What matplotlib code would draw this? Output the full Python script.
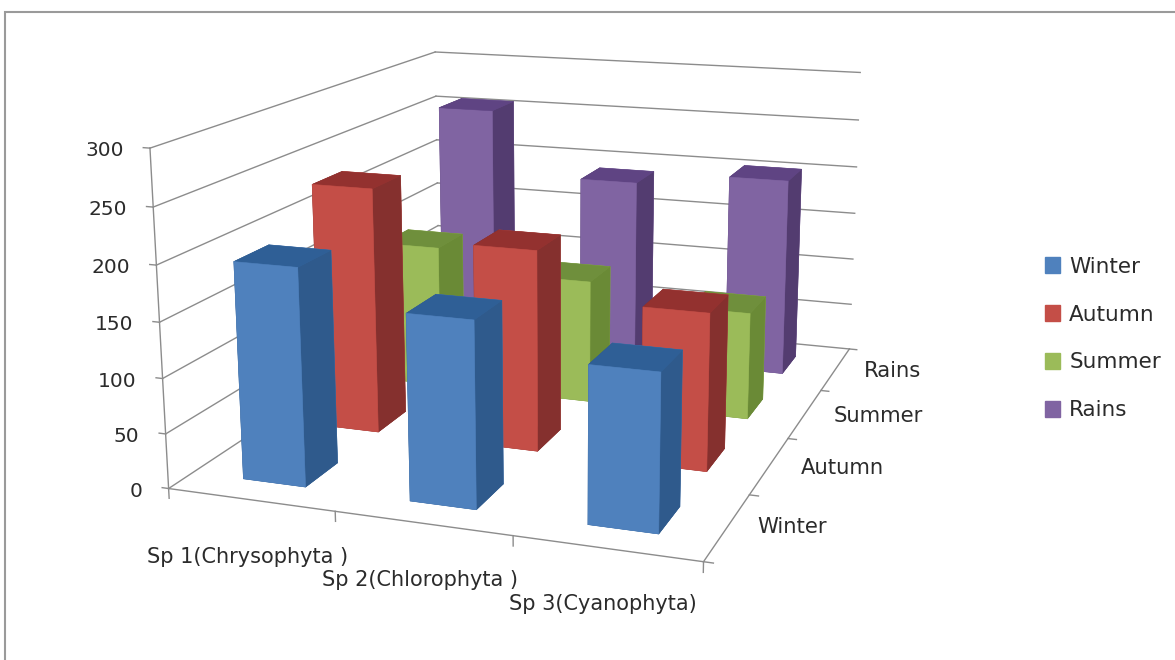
import matplotlib
matplotlib.use("Agg")
import matplotlib.pyplot as plt
from matplotlib.patches import Patch, Rectangle
from mpl_toolkits.mplot3d import proj3d

# Phytoplankton counts per group and season
categories = ["Sp 1(Chrysophyta )", "Sp 2(Chlorophyta )", "Sp 3(Cyanophyta)"]
seasons = ["Winter", "Autumn", "Summer", "Rains"]
winter = [197, 166, 138]
autumn = [234, 189, 146]
summer = [143, 122, 105]
rains = [257, 190, 203]
z_ticks = [0, 50, 100, 150, 200, 250, 300]

# (front, top, side) shades for each season
palette = {
    "Winter": ("#4F81BD", "#2F5F96", "#2F5A8C"),
    "Autumn": ("#C44E47", "#93312F", "#85302E"),
    "Summer": ("#9BBB59", "#6F8F3C", "#6A8A36"),
    "Rains": ("#8064A2", "#5F4483", "#533C70"),
}

W, H = 1175, 660
GRID = "#8c8c8c"
TEXT = "#2b2b2b"

plt.rcParams["font.family"] = ["DejaVu Sans"]
fig = plt.figure(figsize=(W / 100, H / 100), dpi=100, facecolor="white")


def px(x, y):
    """Pixel position (from the top left) to figure fraction."""
    return x / W, 1 - y / H


# Camera and box shape for the 3-D floor and walls
size = 844.31
left_px, top_px = 112.04, -149.01
ax = fig.add_axes([left_px / W, 1 - (top_px + size) / H, size / W, size / H],
                  projection="3d", computed_zorder=False)
ax.set_xlim(0, 3, view_margin=0)
ax.set_ylim(0, 4, view_margin=0)
ax.set_zlim(0, 300, view_margin=0)
ax.view_init(14.2621, -70.3529, 0.1278)
ax.set_proj_type("persp", focal_length=0.4129)
ax.set_box_aspect((0.7887, 1, 0.4944))
ax.set_axis_off()
ax.patch.set_alpha(0)
ax.apply_aspect()

nx, ny = len(categories), len(seasons)


def seg(a, b, lw=1.0):
    ax.plot(*zip(a, b), color=GRID, lw=lw, zorder=1, clip_on=False)


def to_figure(x, y, z):
    """Project a data point to figure fraction."""
    u, v, _ = proj3d.proj_transform(x, y, z, ax.get_proj())
    return fig.transFigure.inverted().transform(ax.transData.transform((u, v)))


# Gridlines on the two walls, with value labels left of the front edge
for z in z_ticks:
    seg((0, 0, z), (0, ny, z))
    seg((0, ny, z), (nx, ny, z))
    seg((-0.04, 0, z), (0, 0, z))
    fx, fy = to_figure(0, 0, z)
    fig.text(fx - 26.5 / W, fy - 0.5 / H, str(z), ha="right", va="center_baseline",
             fontsize=14.5, color=TEXT)
seg((0, 0, 0), (0, 0, 300))

# Floor edges and their tick marks
seg((0, 0, 0), (nx, 0, 0))
seg((nx, 0, 0), (nx, ny, 0))
for i in range(nx + 1):
    seg((i, 0, 0), (i, 0, -9))
for j in range(ny + 1):
    seg((nx, j, 0), (nx + 0.05, j, 0))

# Bars, painted from the back row forward
bar_w, bar_d = 0.38, 0.42
rows = dict(zip(seasons, [winter, autumn, summer, rains]))
for j in reversed(range(ny)):
    name = seasons[j]
    front, top, side = palette[name]
    faces = [top, top, front, front, side, side]
    for i, value in enumerate(rows[name]):
        ax.bar3d(i + 0.503 - bar_w / 2, j + 0.49 - bar_d / 2, 0,
                 bar_w, bar_d, value, color=faces, edgecolor=faces,
                 linewidth=0.4, shade=False,
                 zorder=10 + (ny - j) * 10 + i)

# Axis labels
for label, (x, y) in zip(categories, [(248, 557), (420, 580), (603, 604)]):
    fig.text(*px(x, y), label, ha="center", va="center",
             fontsize=15, color=TEXT)
for label, (x, y) in zip(seasons, [(792, 527), (842, 468), (878, 416), (893, 371)]):
    fig.text(*px(x, y), label, ha="center", va="center",
             fontsize=15.2, color=TEXT)

# Legend
handles = [Patch(color=palette[s][0], label=s) for s in seasons]
fig.legend(handles=handles, loc="center left", bbox_to_anchor=px(1036, 338.5),
           frameon=False, fontsize=15.5, labelcolor=TEXT,
           handlelength=0.72, handleheight=0.72, handletextpad=0.42,
           labelspacing=1.30, borderpad=0.4, borderaxespad=0)

# Chart frame, running off the right and bottom of the image
fig.add_artist(Rectangle(px(5, 700), 1300 / W, 688 / H, fill=False,
                         edgecolor="#9a9a9a", lw=1.5,
                         transform=fig.transFigure))

fig.savefig("out.png", dpi=100)
